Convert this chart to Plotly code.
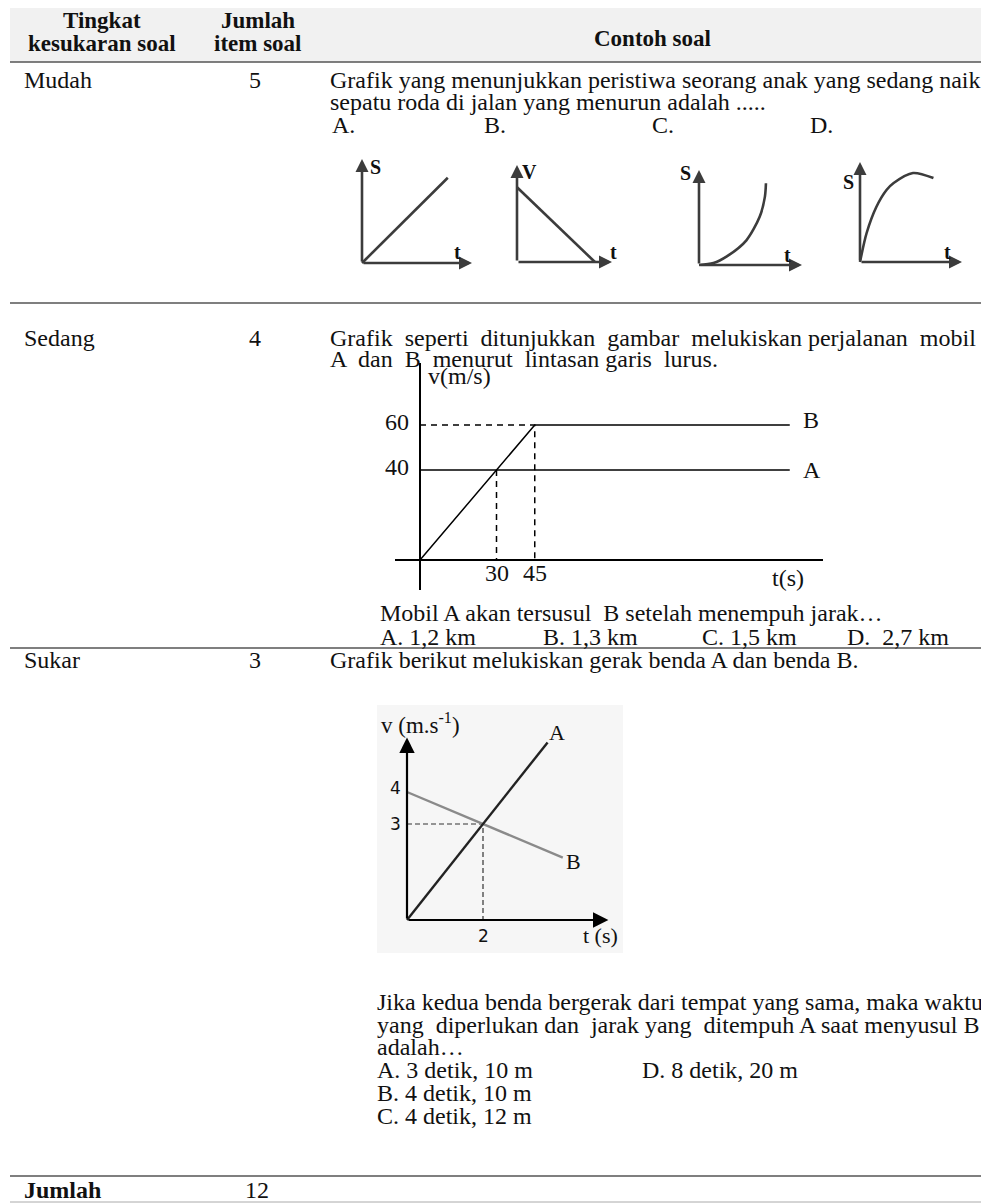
import plotly.graph_objects as go

# the page body has an 8px margin: map reference pixels into figure pixels
W, H = 989, 1203
OFF = 8

# ---- table content ----
levels = ["Mudah", "Sedang", "Sukar"]
item_counts = [5, 4, 3]
total_items = 12

# ---- Mudah: four sketch graphs (units: fraction of axis length) ----
graph_a_t = [0, 0.78]
graph_a_s = [0, 0.82]
graph_b_t = [0, 0.82]
graph_b_v = [0.77, 0]
graph_c_t = [0, 0.14, 0.27, 0.46, 0.59, 0.64, 0.65]
graph_c_s = [0, 0.02, 0.09, 0.26, 0.51, 0.72, 0.86]
graph_d_t = [0, 0.065, 0.16, 0.26, 0.33, 0.52, 0.72]
graph_d_s = [0, 0.29, 0.55, 0.72, 0.79, 0.89, 0.84]

# ---- Sedang: v-t graph of cars A and B ----
sedang_t_a = [0, 145]
sedang_v_a = [40, 40]
sedang_t_b = [0, 45, 145]
sedang_v_b = [0, 60, 60]
sedang_meet_t = 30
sedang_meet_v = 40

# ---- Sukar: v-t graph of bodies A and B ----
sukar_t_a = [0, 3.7]
sukar_v_a = [0, 5.55]
sukar_t_b = [0, 4.1]
sukar_v_b = [4, 1.95]
sukar_cross_t = 2
sukar_cross_v = 3

SERIF = "Liberation Serif"
SANS = "DejaVu Sans"
INK = "#111111"
FS = 24


def px(x):
    return (x - OFF) / W


def py(y):
    return 1 - (y - OFF) / H


fig = go.Figure()
annotations = []
shapes = []


def text(s, x, y, anchor="left", size=FS, family=SERIF, color=INK):
    annotations.append(dict(text=s, x=px(x), y=py(y), xref="paper", yref="paper",
                            xanchor=anchor, yanchor="middle", showarrow=False,
                            font=dict(family=family, size=size, color=color)))


def hline(y, color="#555555", width=1.5):
    shapes.append(dict(type="line", xref="paper", yref="paper", x0=px(10), x1=px(992),
                       y0=py(y), y1=py(y), line=dict(color=color, width=width)))


def panel(n, ox, oy, kx, ky, x0, x1, y0, y1, zero=False):
    # place a small axis pair so that data (0,0) lands on pixel (ox, oy)
    sx = "" if n == 1 else str(n)
    common = dict(showgrid=False, showticklabels=False, ticks="", showline=False,
                  zeroline=zero, zerolinecolor="#000000", zerolinewidth=1.5,
                  fixedrange=True, visible=zero)
    fig.update_layout(**{
        f"xaxis{sx}": dict(domain=[px(x0), px(x1)], range=[(x0 - ox) / kx, (x1 - ox) / kx],
                           anchor=f"y{sx}", **common),
        f"yaxis{sx}": dict(domain=[py(y1), py(y0)], range=[(oy - y1) / ky, (oy - y0) / ky],
                           anchor=f"x{sx}", **common),
    })
    return f"x{sx}", f"y{sx}"


def arrow(xr, yr, x, y, color, width, size=1.0):
    annotations.append(dict(text="", x=x, y=y, ax=0, ay=0, xref=xr, yref=yr,
                            axref=xr, ayref=yr, showarrow=True, arrowhead=2,
                            arrowsize=size, arrowwidth=width, arrowcolor=color, standoff=0))


def dlabel(s, xr, yr, x, y, xanchor="center", xshift=0, yshift=0, size=FS,
           family=SERIF):
    annotations.append(dict(text=s, x=x, y=y, xref=xr, yref=yr,
                            xanchor=xanchor, yanchor="middle", xshift=xshift, yshift=yshift,
                            showarrow=False, font=dict(family=family, size=size, color=INK)))


# ---- table frame ----
shapes.append(dict(type="rect", xref="paper", yref="paper", x0=px(10), x1=px(992),
                   y0=py(62), y1=py(7), fillcolor="#f1f1f1", line=dict(width=0), layer="below"))
hline(7, "#666666")
hline(62, "#555555")
hline(303)
hline(648)
hline(1176)
hline(1202, "#aaaaaa", 1)

text("<b>Tingkat</b>", 102, 21, "center", size=23)
text("<b>kesukaran soal</b>", 102, 43, "center", size=23)
text("<b>Jumlah</b>", 258, 21, "center", size=23)
text("<b>item soal</b>", 258, 43, "center", size=23)
text("<b>Contoh soal</b>", 652, 38, "center", size=23)

row_y = [80, 338, 660]
for name, cnt, yy in zip(levels, item_counts, row_y):
    text(name, 22, yy)
    text(str(cnt), 255, yy, "center")
text("<b>Jumlah</b>", 22, 1190)
text(str(total_items), 257, 1190, "center")

# ---- Mudah question ----
text("Grafik yang menunjukkan peristiwa seorang anak yang sedang naik", 328, 80)
text("sepatu roda di jalan yang menurun adalah .....", 328, 102)
for lab, xx in zip(["A.", "B.", "C.", "D."], [330, 482, 650, 808]):
    text(lab, xx, 125)

mudah_panels = [
    (362, 263, 110, 104, graph_a_t, graph_a_s, "S", (375, 167), (457, 252)),
    (517, 262, 95, 97, graph_b_t, graph_b_v, "V", (529, 172), (613, 252)),
    (699, 265, 103, 95, graph_c_t, graph_c_s, "S", (685, 173), (787, 255)),
    (860, 262, 102, 100, graph_d_t, graph_d_s, "S", (848, 182), (947, 252)),
]
for i, (ox, oy, kx, ky, tt, ss, ylab, ypos, tpos) in enumerate(mudah_panels):
    xr, yr = panel(i + 1, ox, oy, kx, ky, ox - 12, ox + kx + 8, oy - ky - 8, oy + 10)
    fig.add_trace(go.Scatter(x=tt, y=ss, mode="lines", xaxis=xr, yaxis=yr,
                             line=dict(color="#3c3c3c", width=2.6, shape="spline", smoothing=0.8),
                             hoverinfo="skip"))
    arrow(xr, yr, 1, 0, "#3c3c3c", 2.6)
    arrow(xr, yr, 0, 1, "#3c3c3c", 2.6)
    text(f"<b>{ylab}</b>", ypos[0], ypos[1], "center", size=20)
    text("<b>t</b>", tpos[0], tpos[1], "center", size=20)

# ---- Sedang question ----
text("Grafik  seperti  ditunjukkan  gambar  melukiskan perjalanan  mobil", 328, 338)
text("A  dan  B  menurut  lintasan garis  lurus.", 328, 359)

xr, yr = panel(5, 420, 560, 2.55, 2.25, 395, 823, 363, 590, zero=True)
fig.add_trace(go.Scatter(x=sedang_t_a, y=sedang_v_a, mode="lines", xaxis=xr, yaxis=yr,
                         line=dict(color="#000000", width=1.5), hoverinfo="skip"))
fig.add_trace(go.Scatter(x=sedang_t_b, y=sedang_v_b, mode="lines", xaxis=xr, yaxis=yr,
                         line=dict(color="#000000", width=1.5), hoverinfo="skip"))
fig.add_trace(go.Scatter(x=[0, sedang_t_b[1], sedang_t_b[1]], y=[sedang_v_b[1], sedang_v_b[1], 0],
                         mode="lines", xaxis=xr, yaxis=yr,
                         line=dict(color="#000000", width=1.5, dash="6px,5px"), hoverinfo="skip"))
fig.add_trace(go.Scatter(x=[sedang_meet_t, sedang_meet_t], y=[sedang_meet_v, 0],
                         mode="lines", xaxis=xr, yaxis=yr,
                         line=dict(color="#000000", width=1.5, dash="6px,5px"), hoverinfo="skip"))
dlabel("60", xr, yr, 0, sedang_v_b[1], "right", xshift=-9, yshift=3)
dlabel("40", xr, yr, 0, sedang_v_a[0], "right", xshift=-9, yshift=3)
dlabel(str(sedang_meet_t), xr, yr, sedang_meet_t, 0, yshift=-13)
dlabel(str(sedang_t_b[1]), xr, yr, sedang_t_b[1], 0, yshift=-13)
dlabel("B", xr, yr, sedang_t_b[-1], sedang_v_b[-1], "left", xshift=11, yshift=5)
dlabel("A", xr, yr, sedang_t_a[-1], sedang_v_a[-1], "left", xshift=11)
text("v(m/s)", 426, 376)
text("t(s)", 788, 578, "center")

text("Mobil A akan tersusul  B setelah menempuh jarak…", 378, 613)
for lab, xx in zip(["A. 1,2 km", "B. 1,3 km", "C. 1,5 km", "D.  2,7 km"], [378, 541, 700, 845]):
    text(lab, xx, 637)

# ---- Sukar question ----
text("Grafik berikut melukiskan gerak benda A dan benda B.", 328, 660)

xr, yr = panel(6, 407, 920, 38, 32, 377, 623, 705, 953)
shapes.append(dict(type="rect", xref=f"{xr} domain", yref=f"{yr} domain", x0=0, x1=1, y0=0, y1=1,
                   fillcolor="#f6f6f6", line=dict(width=0), layer="below"))
fig.add_trace(go.Scatter(x=[0, sukar_cross_t, sukar_cross_t], y=[sukar_cross_v, sukar_cross_v, 0],
                         mode="lines", xaxis=xr, yaxis=yr,
                         line=dict(color="#333333", width=1.2, dash="5px,3px"), hoverinfo="skip"))
fig.add_trace(go.Scatter(x=sukar_t_b, y=sukar_v_b, mode="lines", xaxis=xr, yaxis=yr,
                         line=dict(color="#8a8a8a", width=2.4), hoverinfo="skip"))
fig.add_trace(go.Scatter(x=sukar_t_a, y=sukar_v_a, mode="lines", xaxis=xr, yaxis=yr,
                         line=dict(color="#222222", width=2.4), hoverinfo="skip"))
arrow(xr, yr, 5.3, 0, "#000000", 2.2, 1.4)
arrow(xr, yr, 0, 5.7, "#000000", 2.2, 1.4)
dlabel("4", xr, yr, 0, sukar_v_b[0], "right", xshift=-4, yshift=4, size=17, family=SANS)
dlabel(str(sukar_cross_v), xr, yr, 0, sukar_cross_v, "right", xshift=-4, size=17, family=SANS)
dlabel(str(sukar_cross_t), xr, yr, sukar_cross_t, 0, yshift=-16, size=17, family=SANS)
dlabel("A", xr, yr, sukar_t_a[-1], sukar_v_a[-1], xshift=9, yshift=10, size=22)
dlabel("B", xr, yr, sukar_t_b[-1], sukar_v_b[-1], "left", xshift=1, yshift=-4, size=22)
text("v (m.s<sup>-1</sup>)", 420, 723, "center", size=23)
text("t (s)", 600, 935, "center", size=22)

text("Jika kedua benda bergerak dari tempat yang sama, maka waktu", 375, 1002)
text("yang  diperlukan dan  jarak yang  ditempuh A saat menyusul B", 375, 1025)
text("adalah…", 375, 1047)
text("A. 3 detik, 10 m", 375, 1070)
text("D. 8 detik, 20 m", 640, 1070)
text("B. 4 detik, 10 m", 375, 1093)
text("C. 4 detik, 12 m", 375, 1116)

fig.update_layout(
    width=W, height=H, autosize=False,
    margin=dict(l=0, r=0, t=0, b=0),
    paper_bgcolor="#ffffff", plot_bgcolor="rgba(0,0,0,0)",
    showlegend=False, hovermode=False,
    annotations=annotations, shapes=shapes,
)

fig.write_html("out.html")
